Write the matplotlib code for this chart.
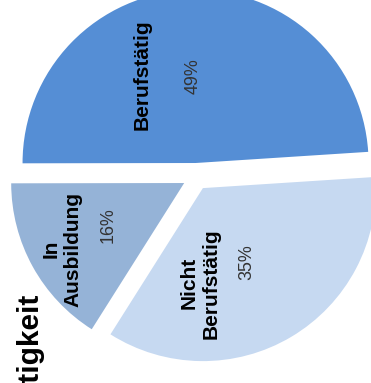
import numpy as np
import matplotlib
matplotlib.use("Agg")
import matplotlib.pyplot as plt

plt.rcParams["font.family"] = ["Liberation Sans", "DejaVu Sans"]

labels = ["Berufstätig", "In\nAusbildung", "Nicht\nBerufstätig"]
shares = [49, 16, 35]
colors = ["#558ED5", "#95B3D7", "#C6D9F1"]
title = "Berufstätigkeit"

W, H = 371, 383
fig = plt.figure(figsize=(W / 100, H / 100), dpi=100)
ax = fig.add_axes([0, 0, 1, 1])

wedges, _, pcts = ax.pie(
    shares, colors=colors, startangle=3.7, counterclock=True,
    explode=[0.078] * 3, autopct="%d%%", pctdistance=0.5,
    wedgeprops=dict(linewidth=0),
    textprops=dict(fontsize=12.9, color="#333333"),
)

# percentages read bottom-to-top, names sit to the left of them
name_shift = [(-0.29, 0.01), (-0.27, -0.14), (-0.27, -0.12)]
for t, name, (dx, dy) in zip(pcts, labels, name_shift):
    t.set_rotation(90)
    t.set_ha("center")
    t.set_va("center")
    x, y = t.get_position()
    ax.text(x + dx, y + dy, name, rotation=90, ha="center", va="center",
            fontsize=15, fontweight="bold", color="black",
            multialignment="center", linespacing=1.2)

# unit radius = 173 px, pie centre at (196, 176.5) px
r = 173.0
ax.set_xlim(-196 / r, (W - 196) / r)
ax.set_ylim((176.5 - H) / r, 176.5 / r)
ax.set_aspect("auto")
ax.axis("off")

fig.text(29.5 / W, 1 - 293 / H, title, rotation=90, ha="center", va="top",
         fontsize=21.5, fontweight="bold", color="black")

fig.savefig("out.png", dpi=100, facecolor="white")
plt.close(fig)
